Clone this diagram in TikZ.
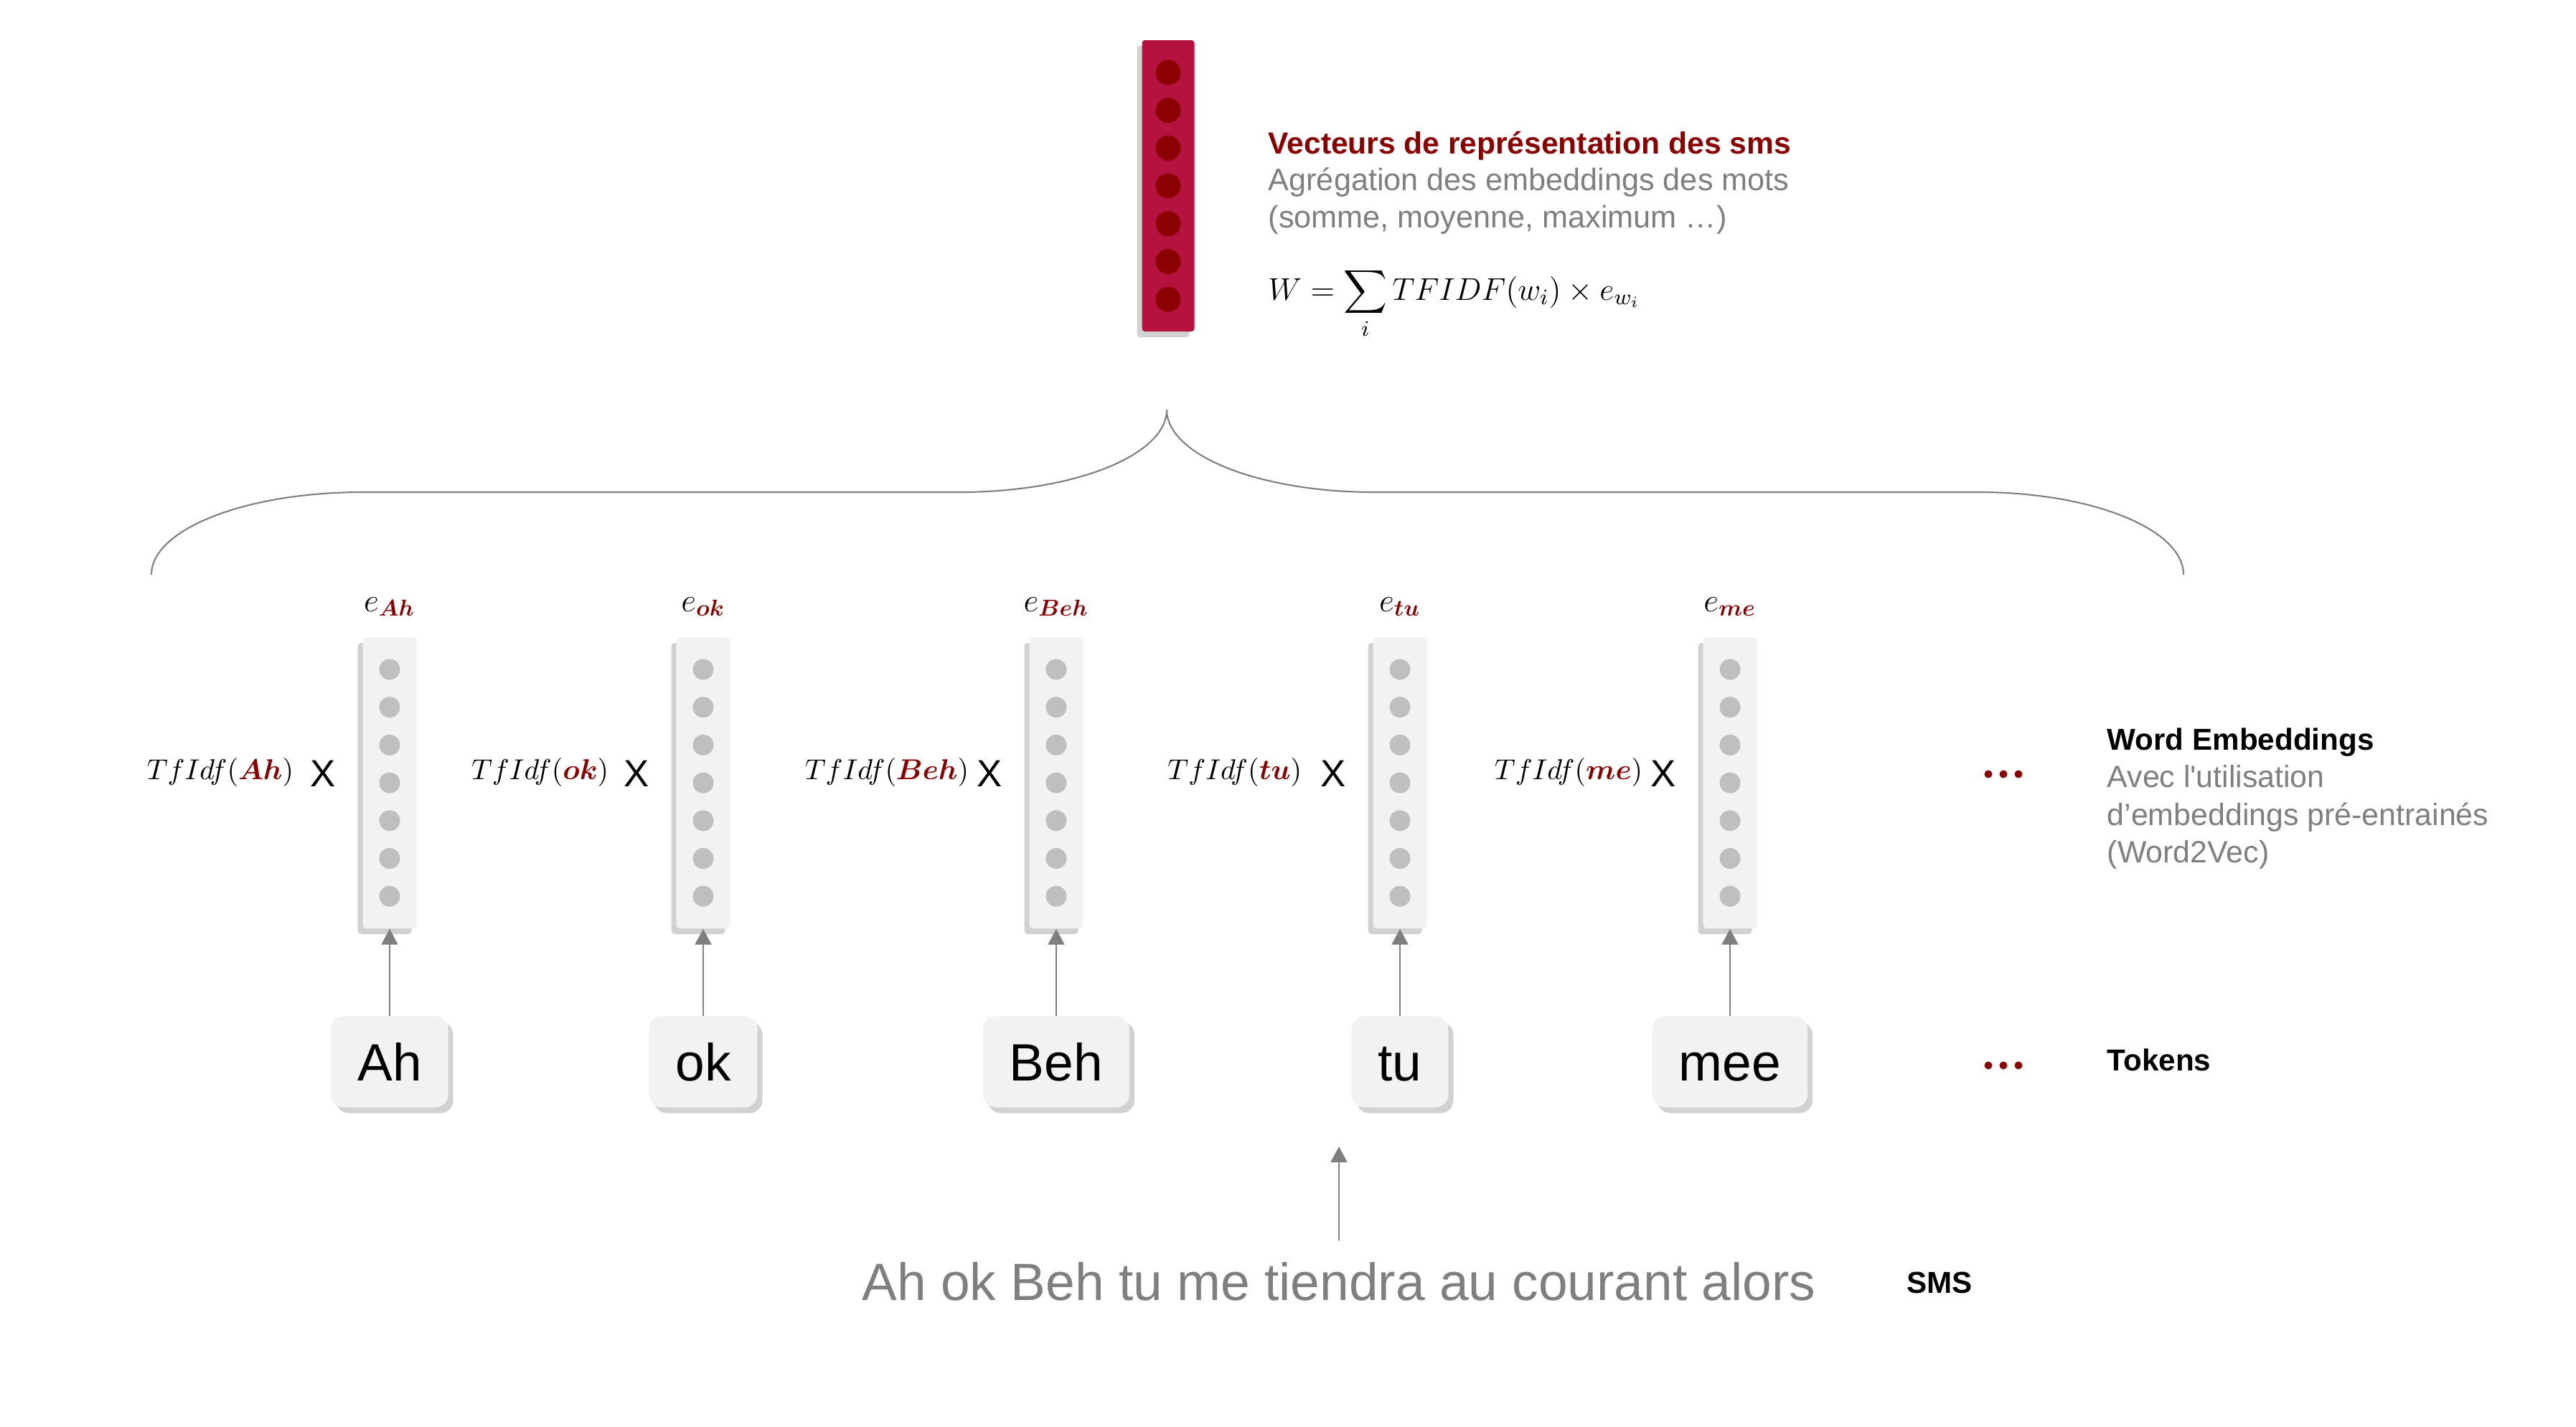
\RequirePackage{fix-cm}
\documentclass[tikz,border=0pt]{standalone}
\usepackage{amsmath}
\usepackage[no-math]{fontspec}
\setmainfont{Liberation Sans}
\usepackage{xcolor}
\usepackage{tikz}
\usetikzlibrary{arrows.meta,shadows}
\definecolor{dred}{HTML}{8B0000}
\definecolor{crim}{HTML}{B5123F}
\definecolor{grey}{HTML}{7F7F7F}
\definecolor{boxbg}{HTML}{F2F2F2}
\definecolor{dotbg}{HTML}{BFBFBF}
\tikzset{
  shade/.style={drop shadow={shadow xshift=#1, shadow yshift=-0.08cm, opacity=0.3, fill=black!60}},
  vec/.style={fill=crim, rounded corners=0.04cm, minimum width=0.73cm, minimum height=4.06cm, inner sep=0pt, shade=-0.07cm},
  vecdot/.style={circle, fill=dred, minimum size=0.35cm, inner sep=0pt},
  emb/.style={fill=boxbg, rounded corners=0.05cm, minimum width=0.75cm, minimum height=4.06cm, inner sep=0pt, shade=-0.07cm},
  embdot/.style={circle, fill=dotbg, minimum size=0.29cm, inner sep=0pt},
  tok/.style={fill=boxbg, rounded corners=0.18cm, minimum height=1.27cm, inner xsep=0.37cm, text height=0.52cm, text depth=0pt, font=\fontsize{20.8}{25}\selectfont, shade=0.07cm},
  link/.style={draw=grey, line width=0.6pt, -{Triangle[length=0.22cm, width=0.23cm]}},
  brace/.style={draw=grey, line width=0.6pt},
  head/.style={anchor=base west, inner sep=0pt, text=dred, font=\fontsize{12.1}{14}\selectfont\bfseries},
  sub/.style={anchor=base west, inner sep=0pt, text=grey, font=\fontsize{12.3}{14}\selectfont},
  note/.style={anchor=base west, inner sep=0pt, font=\fontsize{12}{14}\selectfont\bfseries},
  notesub/.style={anchor=base west, inner sep=0pt, text=grey, font=\fontsize{12.2}{14}\selectfont},
  elab/.style={anchor=base, inner sep=0pt, font=\fontsize{13}{15}\selectfont},
  tfidf/.style={anchor=base east, inner sep=0pt, font=\fontsize{11.4}{13}\selectfont},
  cross/.style={inner sep=0pt, font=\fontsize{15}{17}\selectfont},
}

\begin{document}
\begin{tikzpicture}
  \useasboundingbox (0,0) rectangle (35.90,-19.88);

  % sentence vector
  \node[vec] (sent) at (16.28,-2.59) {};
  \foreach \k in {0,...,6}
    \node[vecdot] (sd-\k) at (16.28,-1.01-0.527*\k) {};
  \node[head] (ttl) at (17.67,-2.14) {Vecteurs de représentation des sms};
  \node[sub] (ttl2) at (17.67,-2.65) {Agrégation des embeddings des mots};
  \node[sub] (ttl3) at (17.67,-3.17) {(somme, moyenne, maximum …)};
  \node[anchor=base west, inner sep=0pt, font=\fontsize{12.5}{14}\selectfont] (frm) at (17.67,-4.18)
    {$\displaystyle W=\sum_i TFIDF(w_i)\times e_{w_i}$};

  % brace
  \draw[brace] (2.11,-8.01) .. controls (2.11,-7.375) and (3.43,-6.86) .. (5.05,-6.86)
    -- (13.37,-6.86) .. controls (14.97,-6.86) and (16.26,-6.345) .. (16.26,-5.71)
    .. controls (16.26,-6.345) and (17.55,-6.86) .. (19.15,-6.86)
    -- (27.58,-6.86) .. controls (29.15,-6.86) and (30.43,-7.375) .. (30.43,-8.01);

  % words
  \foreach \w/\x/\r/\tw in {Ah/5.43/4.10/Ah, ok/9.80/8.49/ok, Beh/14.72/13.51/Beh, tu/19.51/18.15/tu, me/24.11/22.90/mee} {
    \node[emb] (emb-\w) at (\x,-10.91) {};
    \foreach \k in {0,...,6}
      \node[embdot] (d-\w-\k) at (\x,-9.33-0.527*\k) {};
    \node[elab] (e-\w) at (\x,-8.52) {$e_{\textcolor{dred}{\boldsymbol{\w}}}$};
    \node[tfidf] (tf-\w) at (\r,-10.86) {$TfIdf(\textcolor{dred}{\boldsymbol{\w}})$};
    \node[cross] (x-\w) at (\x-0.93,-10.78) {X};
    \node[tok] (tok-\w) at (\x,-14.80) {\tw};
    \draw[link] (tok-\w) -- (emb-\w);
  }
  \foreach \k in {0,1,2} {
    \fill[dred] (27.71+0.21*\k,-10.79) circle (0.055);
    \fill[dred] (27.71+0.21*\k,-14.85) circle (0.055);
  }

  % notes on the right
  \node[note] (we) at (29.36,-10.45) {Word Embeddings};
  \node[notesub] (we2) at (29.36,-10.97) {Avec l\textquotesingle utilisation};
  \node[notesub] (we3) at (29.36,-11.50) {d’embeddings pré-entrainés};
  \node[notesub] (we4) at (29.36,-12.02) {(Word2Vec)};
  \node[note] (tk) at (29.36,-14.92) {Tokens};

  % sms
  \node[anchor=base, inner xsep=0pt, inner ysep=0.29cm, text=grey, font=\fontsize{20.8}{25}\selectfont] (sms) at (18.66,-18.12)
    {Ah ok Beh tu me tiendra au courant alors};
  \coordinate (smstip) at (18.66,-15.98);
  \draw[link] (sms.north) -- (smstip);
  \node[note] (smslab) at (26.57,-18.02) {SMS};
\end{tikzpicture}
\end{document}
